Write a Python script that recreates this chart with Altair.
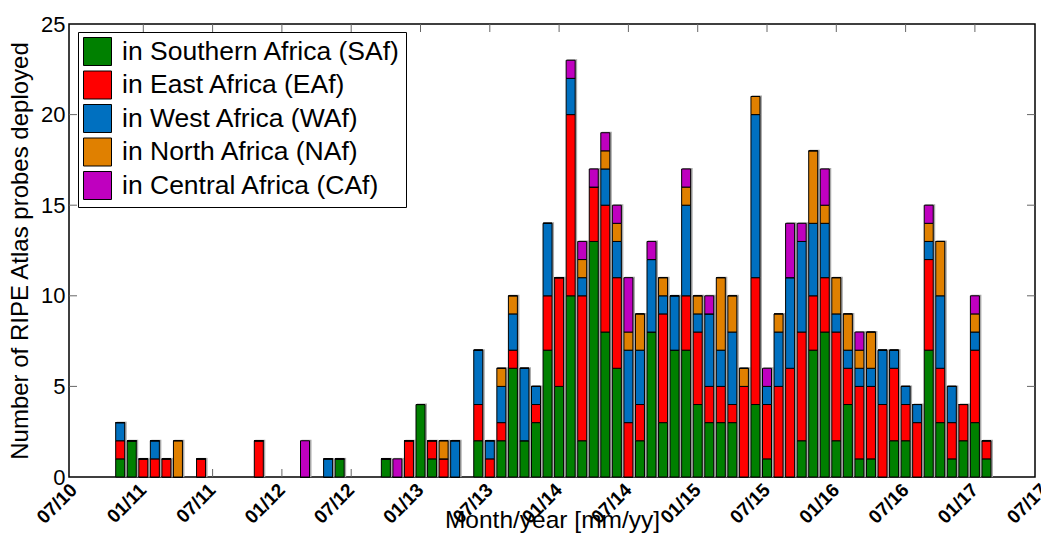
import altair as alt
import pandas as pd

# month index: 0 = 07/2010 (one step per month)
months = [4, 5, 6, 7, 8, 9, 11, 16, 20, 22, 23, 27, 28, 29, 30, 31, 32, 33,
          35, 36, 37, 38, 39, 40, 41, 42, 43, 44, 45, 46, 47, 48, 49, 50, 51,
          52, 53, 54, 55, 56, 57, 58, 59, 60, 61, 62, 63, 64, 65, 66, 67, 68,
          69, 70, 71, 72, 73, 74, 75, 76, 77, 78, 79]

saf = [1, 2, 0, 0, 0, 0, 0, 0, 0, 0, 1, 1, 0, 0, 4, 1, 0, 0,
       2, 0, 2, 6, 2, 3, 7, 5, 10, 2, 13, 8, 6, 0, 2, 8, 3,
       7, 7, 4, 3, 3, 3, 0, 4, 1, 0, 0, 2, 7, 8, 2, 4, 1,
       1, 0, 2, 2, 0, 7, 3, 1, 2, 3, 1]
eaf = [1, 0, 1, 1, 1, 0, 1, 2, 0, 0, 0, 0, 0, 2, 0, 1, 1, 0,
       2, 1, 1, 1, 0, 1, 3, 6, 10, 8, 3, 7, 5, 3, 2, 0, 6,
       0, 3, 4, 2, 2, 1, 5, 7, 3, 5, 6, 6, 3, 3, 6, 2, 4,
       4, 4, 4, 2, 3, 5, 3, 2, 2, 4, 1]
waf = [1, 0, 0, 1, 0, 0, 0, 0, 0, 1, 0, 0, 0, 0, 0, 0, 0, 2,
       3, 1, 2, 2, 4, 1, 4, 0, 2, 1, 0, 2, 2, 4, 3, 4, 1,
       3, 5, 1, 4, 2, 4, 0, 9, 1, 3, 5, 5, 4, 3, 1, 1, 1,
       1, 3, 1, 1, 1, 1, 4, 2, 0, 1, 0]
naf = [0, 0, 0, 0, 0, 2, 0, 0, 0, 0, 0, 0, 0, 0, 0, 0, 1, 0,
       0, 0, 1, 1, 0, 0, 0, 0, 0, 1, 0, 1, 1, 1, 2, 0, 1,
       0, 1, 1, 0, 4, 2, 1, 1, 0, 1, 0, 0, 4, 1, 2, 2, 1,
       2, 0, 0, 0, 0, 1, 3, 0, 0, 1, 0]
caf = [0, 0, 0, 0, 0, 0, 0, 0, 2, 0, 0, 0, 1, 0, 0, 0, 0, 0,
       0, 0, 0, 0, 0, 0, 0, 0, 1, 1, 1, 1, 1, 3, 0, 1, 0,
       0, 1, 0, 1, 0, 0, 0, 0, 1, 0, 3, 1, 0, 2, 0, 0, 1,
       0, 0, 0, 0, 0, 1, 0, 0, 0, 1, 0]

regions = ["in Southern Africa (SAf)", "in East Africa (EAf)", "in West Africa (WAf)",
           "in North Africa (NAf)", "in Central Africa (CAf)"]
colors = ["#008000", "#FF0000", "#0070C0", "#E08000", "#BF00BF"]

tick_pos = [0, 6, 12, 18, 24, 30, 36, 42, 48, 54, 60, 66, 72, 78, 84]
tick_labels = ["07/10", "01/11", "07/11", "01/12", "07/12", "01/13", "07/13", "01/14",
               "07/14", "01/15", "07/15", "01/16", "07/16", "01/17", "07/17"]
y_ticks = [0, 5, 10, 15, 20, 25]

rows = []
for i, m in enumerate(months):
    for k, series in enumerate([saf, eaf, waf, naf, caf]):
        rows.append({"month": m, "region": regions[k], "count": series[i], "ord": k})
df = pd.DataFrame(rows)

W, H = 966, 453
xscale = alt.Scale(domain=[0, 82.77], nice=False, zero=False)
yscale = alt.Scale(domain=[0, 25], nice=False)

x_axis = alt.Axis(labels=False, ticks=False, domain=False, grid=False,
                  title="Month/year [mm/yy]", titleFontSize=24.5,
                  titleFontWeight="normal", titleY=50,
                  titleBaseline="alphabetic", titleColor="black")
y_axis = alt.Axis(values=y_ticks, ticks=False, domain=False, grid=False,
                  labelFontSize=22, labelPadding=4, labelColor="black",
                  title="Number of RIPE Atlas probes deployed",
                  titleFontSize=24, titleFontWeight="normal",
                  titleAngle=270, titleX=-42, titleY=H / 2,
                  titleAlign="center", titleBaseline="alphabetic",
                  titleColor="black")
XT = "Month/year [mm/yy]"
YT = "Number of RIPE Atlas probes deployed"

inner_x = pd.DataFrame({"t": [p for p in tick_pos if 0 < p < 82]})
inner_y = pd.DataFrame({"v": [v for v in y_ticks if 0 < v < 25]})
lab_df = pd.DataFrame({"t": tick_pos, "lab": tick_labels})

tick_col = "#666666"
top_ticks = alt.Chart(inner_x).mark_rule(color=tick_col, strokeWidth=1).encode(
    x=alt.X("t:Q", scale=xscale, axis=x_axis, title=XT), y=alt.value(0), y2=alt.value(8))
bot_ticks = alt.Chart(inner_x).mark_rule(color=tick_col, strokeWidth=1).encode(
    x=alt.X("t:Q", scale=xscale, axis=x_axis, title=XT), y=alt.value(H), y2=alt.value(H - 8))
left_ticks = alt.Chart(inner_y).mark_rule(color=tick_col, strokeWidth=1).encode(
    y=alt.Y("v:Q", scale=yscale, axis=y_axis, title=YT), x=alt.value(0), x2=alt.value(8))
right_ticks = alt.Chart(inner_y).mark_rule(color=tick_col, strokeWidth=1).encode(
    y=alt.Y("v:Q", scale=yscale, axis=y_axis, title=YT), x=alt.value(W - 8), x2=alt.value(W))

shadow = alt.Chart(df).mark_bar(size=10, color="#a8a8a8", xOffset=1.5, yOffset=-1).encode(
    x=alt.X("month:Q", scale=xscale, axis=x_axis, title=XT),
    y=alt.Y("sum(count):Q", scale=yscale, axis=y_axis, title=YT),
)

bars = alt.Chart(df).mark_bar(size=9, stroke="black", strokeWidth=1, opacity=1).encode(
    x=alt.X("month:Q", scale=xscale, axis=x_axis, title=XT),
    y=alt.Y("sum(count):Q", scale=yscale, stack="zero", axis=y_axis, title=YT),
    color=alt.Color("region:N", scale=alt.Scale(domain=regions, range=colors),
                    legend=alt.Legend(title=None, orient="none", legendX=9, legendY=8,
                                      padding=5, strokeColor="black", fillColor="white",
                                      symbolType="square", symbolSize=784,
                                      symbolStrokeColor="black", symbolStrokeWidth=1,
                                      symbolOpacity=1,
                                      labelFontSize=26.5, labelLimit=400, labelOffset=10,
                                      rowPadding=0.5, labelColor="black")),
    order=alt.Order("ord:Q", sort="ascending"),
)

labels = alt.Chart(lab_df).mark_text(angle=315, align="right", baseline="middle",
                                     fontSize=19, fontWeight="bold", clip=False,
                                     color="black").encode(
    x=alt.X("t:Q", scale=xscale, axis=x_axis, title=XT),
    y=alt.value(H + 10),
    text="lab:N",
)

chart = alt.layer(top_ticks, bot_ticks, left_ticks, right_ticks, shadow, bars, labels).properties(
    width=W, height=H,
    autosize=alt.AutoSizeParams(type="none"),
    padding={"left": 69, "top": 24, "right": 6, "bottom": 57},
).configure(font="Liberation Sans", background="white").configure_view(
    stroke="black", strokeWidth=1.5)

chart.save("out.html", embed_options={"renderer": "svg", "actions": False})
